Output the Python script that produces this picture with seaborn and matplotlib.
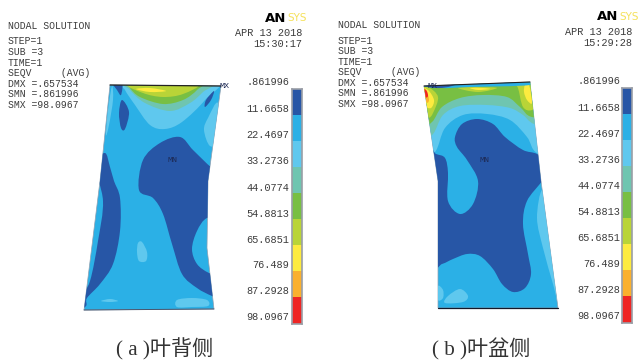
import matplotlib
matplotlib.use('Agg')
import matplotlib.pyplot as plt
from matplotlib.patches import PathPatch
from matplotlib.path import Path
from matplotlib.colors import ListedColormap
import numpy as np
import seaborn as sns

W, H = 639, 362

# contour colours, low to high stress
LEVEL_COLORS = ['#2756A6', '#2BB0E6', '#5FC8EE', '#6FC5B0', '#78BF43',
                '#B9D437', '#FDEB3F', '#FAB02E', '#EE2524']
LEVEL_LABELS = ['.861996', '11.6658', '22.4697', '33.2736', '44.0774',
                '54.8813', '65.6851', '76.489', '87.2928', '98.0967']
INFO_LINES = ['STEP=1', 'SUB =3', 'TIME=1', 'SEQV     (AVG)', 'DMX =.657534',
              'SMN =.861996', 'SMX =98.0967']
DARK, CYAN, LIGHT, TEAL, GREEN, LIME, YELLOW, ORANGE, RED = range(9)

# panel a outlines in pixels
A_BLADE = [(110, 85), (221, 86), (208, 181), (207, 248), (214, 309), (84, 310), (100, 181)]
A_REGIONS = [
    (LIGHT, [(122, 80), (125, 90), (135, 105), (150, 125), (165, 129), (182, 122), (205, 100), (216, 80)]),
    (TEAL, [(125, 80), (130, 90), (145, 103), (170, 111), (190, 103), (203, 92), (214, 80)]),
    (GREEN, [(127, 80), (130, 88), (140, 97), (163, 104), (183, 100), (197, 90), (202, 80)]),
    (LIME, [(130, 84), (143, 93), (163, 97), (183, 94), (196, 84)]),
    (YELLOW, [(136, 89), (150, 92), (166, 91), (150, 88)]),
    (LIGHT, [(218, 103), (208, 118), (204, 130), (210, 146), (220, 140)]),
    (LIGHT, [(112, 86), (108, 110), (106, 135), (109, 125), (113, 100)]),
    (DARK, [(122, 100), (129, 112), (125, 129), (121, 128), (119, 113)]),
    (DARK, [(214, 91), (211, 100), (205, 107), (206, 100)]),
    (DARK, [(112, 82), (122, 82), (121, 95), (117, 90)]),
    (DARK, [(139, 190), (143, 160), (160, 143), (180, 137), (193, 150), (212, 168), (225, 175),
            (225, 218), (207, 218), (197, 231), (192, 249), (197, 264), (209, 273), (225, 278),
            (225, 300), (212, 296), (197, 288), (182, 274), (172, 244), (163, 214), (153, 198)]),
    (DARK, [(105, 153), (110, 167), (114, 181), (120, 198), (120, 231), (113, 264), (100, 284),
            (87, 298), (86, 306), (76, 312), (80, 299), (90, 281), (98, 241), (103, 201), (95, 165)]),
    (LIGHT, [(137, 252), (138, 243), (142, 242), (147, 252), (146, 261), (139, 261)]),
    (LIGHT, [(177, 300), (192, 298), (207, 300), (208, 306), (192, 307), (177, 307)]),
    (LIGHT, [(101, 301), (110, 299), (118, 301), (110, 302)]),
]

# panel b outlines
B_BLADE = [(424, 86), (530, 82), (541, 181), (558, 308), (438, 308), (438, 181)]
B_REGIONS = [
    (LIGHT, [(420, 155), (435, 152), (445, 128), (463, 115), (487, 114), (510, 120), (527, 137),
             (537, 153), (565, 158), (565, 70), (415, 70)]),
    (TEAL, [(420, 140), (433, 134), (443, 115), (460, 106), (487, 105), (510, 108), (523, 115),
            (534, 124), (560, 130), (560, 70), (415, 70)]),
    (GREEN, [(420, 125), (432, 122), (442, 107), (460, 98), (483, 95), (507, 97), (520, 107),
             (532, 117), (560, 115), (560, 70), (415, 70)]),
    (LIME, [(418, 88), (428, 87), (438, 97), (433, 113), (428, 118), (418, 115)]),
    (LIME, [(514, 82), (518, 88), (523, 107), (532, 110), (540, 100), (536, 80)]),
    (LIME, [(458, 88), (478, 87), (497, 88), (478, 92)]),
    (YELLOW, [(470, 88), (483, 88), (490, 89), (478, 90)]),
    (YELLOW, [(420, 88), (428, 90), (434, 100), (431, 108), (425, 105)]),
    (YELLOW, [(525, 85), (529, 85), (532, 103), (527, 100), (524, 92)]),
    (ORANGE, [(420, 88), (426, 90), (429, 100), (426, 102)]),
    (RED, [(420, 88), (426, 90), (428, 96), (425, 97)]),
    (CYAN, [(420, 84), (535, 78), (530, 85), (470, 87), (440, 88)]),
    (DARK, [(420, 84), (462, 80), (452, 86), (436, 88)]),
    (DARK, [(455, 137), (462, 124), (477, 119), (493, 124), (505, 137), (523, 150), (537, 154),
            (550, 165), (542, 181), (527, 201), (523, 224), (528, 254), (531, 274), (525, 288),
            (513, 292), (502, 284), (493, 269), (480, 256), (467, 254), (453, 259), (442, 264),
            (425, 268), (425, 150), (436, 154), (445, 158), (448, 173), (448, 201), (460, 214),
            (473, 204), (478, 181), (467, 160), (457, 147)]),
    (LIGHT, [(542, 190), (537, 218), (543, 248), (553, 284), (560, 308), (566, 290), (550, 210)]),
    (LIGHT, [(445, 303), (448, 296), (460, 289), (468, 296), (463, 302)]),
    (LIGHT, [(438, 286), (443, 290), (443, 298), (438, 300)]),
]

A_LABEL_Y = [82, 109, 135, 161, 188, 214, 240, 265, 291, 317]
B_LABEL_Y = [81, 108, 134, 160, 186, 212, 238, 264, 290, 316]

MONO = dict(family='Liberation Mono', fontsize=7, color='#3c3c3c', va='center')
MONO_BIG = dict(family='Liberation Mono', fontsize=7.4, color='#3c3c3c', va='center')
MARK = dict(family='Liberation Mono', fontsize=6, color='#1d2a55', va='center', ha='center')


def smooth_path(points):
    """Closed Catmull-Rom curve through the outline points, as cubic beziers."""
    pts = np.array(points, dtype=float)
    verts = [pts[0]]
    codes = [Path.MOVETO]
    n = len(pts)
    for i in range(n):
        p0, p1, p2, p3 = pts[i - 1], pts[i], pts[(i + 1) % n], pts[(i + 2) % n]
        verts += [p1 + (p2 - p0) / 6, p2 - (p3 - p1) / 6, p2]
        codes += [Path.CURVE4] * 3
    return Path(verts, codes)


def draw_blade(ax, blade, regions):
    blade_patch = plt.Polygon(blade, closed=True, facecolor=LEVEL_COLORS[CYAN],
                              edgecolor='#8f9fb0', linewidth=0.5, zorder=1)
    ax.add_patch(blade_patch)
    for level, outline in regions:
        patch = PathPatch(smooth_path(outline), facecolor=LEVEL_COLORS[level],
                          edgecolor='none', zorder=2)
        ax.add_patch(patch)
        patch.set_clip_path(blade_patch)


def draw_colorbar(fig, left, top, bottom, width=10):
    cax = fig.add_axes([left / W, 1 - bottom / H, width / W, (bottom - top) / H])
    levels = np.arange(len(LEVEL_COLORS)).reshape(-1, 1)
    sns.heatmap(levels, cmap=ListedColormap(LEVEL_COLORS), cbar=False, ax=cax,
                xticklabels=False, yticklabels=False)
    cax.set_xlabel('')
    cax.set_ylabel('')
    for side in cax.spines.values():
        side.set_visible(True)
        side.set_color('#9a9ea6')
        side.set_linewidth(1.2)


def draw_header(ax, x, y_title, y_info, date_right, date_y, time_str):
    ax.text(x, y_title, 'NODAL SOLUTION', **MONO)
    for y, line in zip(y_info, INFO_LINES):
        ax.text(x, y, line, **MONO)
    ax.text(date_right, date_y, 'APR 13 2018', ha='right', **MONO_BIG)
    ax.text(date_right, date_y + 11, time_str, ha='right', **MONO_BIG)


def draw_logo(ax, x, y):
    ax.text(x, y, 'AN', color='black', fontsize=9.5, fontweight='bold',
            family='DejaVu Sans', va='center', ha='left')
    ax.text(x + 22, y, 'SYS', color='#F5E15A', fontsize=7.5,
            family='DejaVu Sans', va='center', ha='left')


def main():
    sns.set_theme(style='white')
    plt.rcParams['font.family'] = ['Liberation Serif', 'Noto Sans CJK SC']

    fig = plt.figure(figsize=(W / 100, H / 100), dpi=100)
    ax = fig.add_axes([0, 0, 1, 1])
    ax.set_xlim(0, W)
    ax.set_ylim(H, 0)
    ax.axis('off')

    # panel a
    draw_blade(ax, A_BLADE, A_REGIONS)
    ax.plot([110, 221], [85, 86], color='#222222', linewidth=0.9, zorder=3)
    ax.plot([84, 214], [310, 309], color='#44556f', linewidth=0.7, zorder=3)
    ax.text(172, 161, 'MN', zorder=4, **MARK)
    ax.text(225, 87, 'MX', zorder=4, **MARK)
    draw_header(ax, 7.5, 26, [41.5, 52, 63, 73, 84, 94, 105], 302, 33, '15:30:17')
    draw_logo(ax, 265, 18)
    for y, label in zip(A_LABEL_Y, LEVEL_LABELS):
        ax.text(289, y, label, ha='right', **MONO_BIG)
    draw_colorbar(fig, 292, 89, 323.5)
    ax.text(165, 349, '( a )叶背侧', fontsize=15.2, color='#333333', ha='center', va='center')

    # panel b
    draw_blade(ax, B_BLADE, B_REGIONS)
    ax.plot([424, 530], [86, 82], color='#222222', linewidth=0.8, zorder=3)
    ax.plot([438, 558], [308, 308], color='#14182a', linewidth=0.9, zorder=3)
    ax.text(433, 86, 'MX', zorder=4, **MARK)
    ax.text(484, 160, 'MN', zorder=4, **MARK)
    draw_header(ax, 338, 25, [41, 51, 62, 72, 83, 93, 104], 632, 32, '15:29:28')
    draw_logo(ax, 597, 17)
    for y, label in zip(B_LABEL_Y, LEVEL_LABELS):
        ax.text(620, y, label, ha='right', **MONO_BIG)
    draw_colorbar(fig, 622, 88, 322.5)
    ax.text(481, 349, '( b )叶盆侧', fontsize=15.2, color='#333333', ha='center', va='center')

    fig.savefig('out.png', dpi=100)
    plt.close(fig)


if __name__ == "__main__":
    main()
